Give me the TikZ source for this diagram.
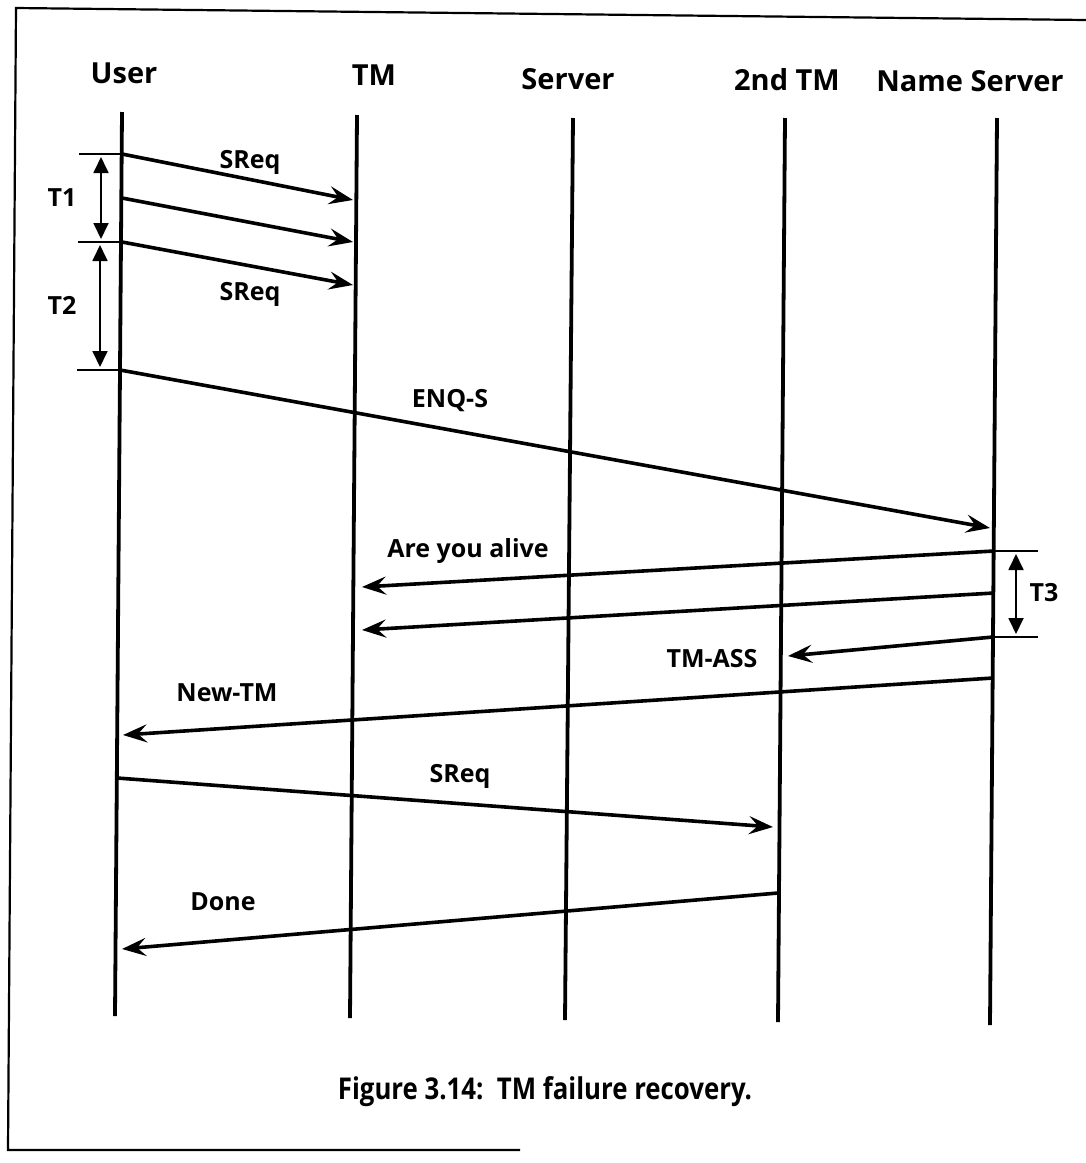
\documentclass[tikz,border=0pt]{standalone}
\usepackage{fontspec}
\setmainfont{Open Sans}
\newfontfamily\capfont{Open Sans}[FakeStretch=0.86]
\usetikzlibrary{arrows.meta}

\tikzset{
  lifeline/.style={line width=3.8pt},
  msgarrow/.style={line width=3.6pt,-{Stealth[length=24pt,width=18pt,inset=9pt]}},
  tickmark/.style={line width=1.8pt},
  timespan/.style={line width=1.8pt,{Triangle[length=16pt,width=15pt]}-{Triangle[length=16pt,width=15pt]}},
  pageframe/.style={line width=2.2pt},
  headtext/.style={font=\fontsize{29}{36}\selectfont\bfseries,anchor=base},
  lbltext/.style={font=\fontsize{25}{30}\selectfont\bfseries},
  captext/.style={font=\capfont\fontsize{30}{36}\selectfont\bfseries,anchor=base},
}

\begin{document}
\begin{tikzpicture}[x=1pt,y=-1pt]
\useasboundingbox (0,0) rectangle (1086,1163);

% page frame
\draw[pageframe] (1086,20) -- (16,8) -- (8,1150) -- (520,1150);

% participants
\node[headtext] (hUser) at (124,83) {User};
\node[headtext] (hTM)   at (374,85) {TM};
\node[headtext] (hSrv)  at (568,89) {Server};
\node[headtext] (h2TM)  at (787,90) {2nd TM};
\node[headtext] (hNS)   at (970,91) {Name Server};

% lifelines
\coordinate (uT) at (122,112);  \coordinate (uB) at (115,1016);
\coordinate (tT) at (357,115);  \coordinate (tB) at (350,1018);
\coordinate (sT) at (573,118);  \coordinate (sB) at (565,1020);
\coordinate (mT) at (785,118);  \coordinate (mB) at (778,1022);
\coordinate (nT) at (997,118);  \coordinate (nB) at (990,1025);
\foreach \a/\b in {uT/uB,tT/tB,sT/sB,mT/mB,nT/nB}
  \draw[lifeline] (\a) -- (\b);

% message end points
\coordinate (u1) at (122,154);  \coordinate (t1) at (353,200);
\coordinate (u2) at (122,198);  \coordinate (t2) at (353,242);
\coordinate (u3) at (122,242);  \coordinate (t3) at (353,285);
\coordinate (u4) at (120,370);  \coordinate (n4) at (990,528);
\coordinate (n5) at (994,551);  \coordinate (t5) at (362,587);
\coordinate (n6) at (994,593);  \coordinate (t6) at (362,630);
\coordinate (n7) at (993,637);  \coordinate (m7) at (788,656);
\coordinate (n8) at (993,678);  \coordinate (u8) at (123,735);
\coordinate (u9) at (117,778);  \coordinate (m9) at (773,827);
\coordinate (m10) at (778,893); \coordinate (u10) at (122,949);

% messages
\draw[msgarrow] (u1) -- (t1);
\draw[msgarrow] (u2) -- (t2);
\draw[msgarrow] (u3) -- (t3);
\draw[msgarrow] (u4) -- (n4);
\draw[msgarrow] (n5) -- (t5);
\draw[msgarrow] (n6) -- (t6);
\draw[msgarrow] (n7) -- (m7);
\draw[msgarrow] (n8) -- (u8);
\draw[msgarrow] (u9) -- (m9);
\draw[msgarrow] (m10) -- (u10);

% message labels
\node[lbltext] (lS1)  at (250,162) {SReq};
\node[lbltext] (lS2)  at (250,294) {SReq};
\node[lbltext] (lENQ) at (450,401) {ENQ-S};
\node[lbltext] (lAYA) at (468,551) {Are you alive};
\node[lbltext] (lTMA) at (712,659) {TM-ASS};
\node[lbltext] (lNew) at (227,693) {New-TM};
\node[lbltext] (lS3)  at (460,776) {SReq};
\node[lbltext] (lDone) at (223,902) {Done};

% timer marks
\coordinate (k1a) at (79,154);   \coordinate (k1b) at (122,154);
\coordinate (k2a) at (78,242);   \coordinate (k2b) at (122,242);
\coordinate (k3a) at (77,370);   \coordinate (k3b) at (120,370);
\coordinate (k4a) at (994,551);  \coordinate (k4b) at (1038,551);
\coordinate (k5a) at (993,637);  \coordinate (k5b) at (1038,637);
\draw[tickmark] (k1a) -- (k1b);
\draw[tickmark] (k2a) -- (k2b);
\draw[tickmark] (k3a) -- (k3b);
\draw[tickmark] (k4a) -- (k4b);
\draw[tickmark] (k5a) -- (k5b);

% timer spans
\coordinate (s1a) at (101,157); \coordinate (s1b) at (101,239);
\coordinate (s2a) at (100,245); \coordinate (s2b) at (100,367);
\coordinate (s3a) at (1016,554); \coordinate (s3b) at (1016,634);
\draw[timespan] (s1a) -- (s1b);
\draw[timespan] (s2a) -- (s2b);
\draw[timespan] (s3a) -- (s3b);
\node[lbltext] (lT1) at (62,198) {T1};
\node[lbltext] (lT2) at (62,305) {T2};
\node[lbltext] (lT3) at (1044,593) {T3};

% caption
\node[captext] (caption) at (545,1099) {Figure 3.14:\ \ TM failure recovery.};
\end{tikzpicture}
\end{document}
